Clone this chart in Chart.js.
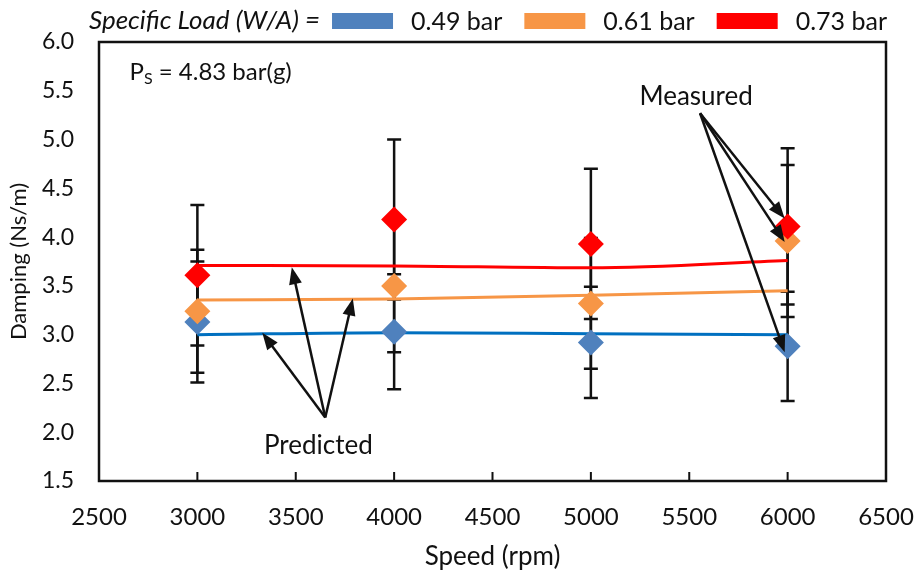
<!DOCTYPE html>
<html><head><meta charset="utf-8">
<script src="https://cdn.jsdelivr.net/npm/chart.js@4"></script>
<style>html,body{margin:0;padding:0;background:#fff}#wrap{width:915px;height:572px;position:relative}</style>
</head><body><div id="wrap"><canvas id="c"></canvas></div>
<script>
// ---- data ----
const speeds = [3000, 4000, 5000, 6000];
const loadLabels = ['0.49 bar', '0.61 bar', '0.73 bar'];
const measured049 = [3.13, 3.03, 2.92, 2.88];
const measured061 = [3.24, 3.50, 3.32, 3.96];
const measured073 = [3.61, 4.18, 3.93, 4.11];
const error049 = [0.62, 0.59, 0.57, 0.56];
const error061 = [0.63, 0.68, 0.67, 0.78];
const error073 = [0.72, 0.82, 0.77, 0.80];
const predicted049 = [3.00, 3.02, 3.01, 3.00];
const predicted061 = [3.355, 3.365, 3.405, 3.45];
const predicted073 = [3.71, 3.705, 3.685, 3.76];
const xTickValues = [2500, 3000, 3500, 4000, 4500, 5000, 5500, 6000, 6500];
const yTickValues = [1.5, 2.0, 2.5, 3.0, 3.5, 4.0, 4.5, 5.0, 5.5, 6.0];
const legendPrefix = 'Specific Load (W/A) =';
const supplyPressure = 'P|S| = 4.83 bar(g)';

// annotation anchors (data units)
const predictedNote = { text: 'Predicted', x: 3615, y: 1.86, from: [3650, 2.15],
  to: [[3330, 3.02], [3480, 3.69], [3790, 3.37]] };
const measuredNote = { text: 'Measured', x: 5535, y: 5.44, from: [5555, 5.27],
  to: [[5985, 4.19], [5985, 3.95], [5985, 2.82]] };
const psNote = { x: 2655, y: 5.69 };

const FONT = 'Lato, "Open Sans", sans-serif';
const blue = '#4F81BD', orange = '#F79646', red = '#FF0000';
const lineBlue = '#0070C0', lineOrange = '#F79646', lineRed = '#FF0000';

const pts = (ys) => speeds.map((s, i) => ({ x: s, y: ys[i] }));

const errorBarPlugin = {
  id: 'errorBars',
  beforeDatasetsDraw(chart) {
    const { ctx, scales: { x, y } } = chart;
    ctx.save();
    ctx.strokeStyle = '#111';
    ctx.lineWidth = 2.5;
    chart.data.datasets.forEach((ds) => {
      if (!ds.errorBars) return;
      ds.data.forEach((p, i) => {
        const e = ds.errorBars[i];
        const px = x.getPixelForValue(p.x);
        const yt = y.getPixelForValue(p.y + e), yb = y.getPixelForValue(p.y - e);
        ctx.beginPath();
        ctx.moveTo(px, yt); ctx.lineTo(px, yb);
        ctx.moveTo(px - 7, yt); ctx.lineTo(px + 7, yt);
        ctx.moveTo(px - 7, yb); ctx.lineTo(px + 7, yb);
        ctx.stroke();
      });
    });
    ctx.restore();
  }
};

function arrow(ctx, x0, y0, x1, y1) {
  const a = Math.atan2(y1 - y0, x1 - x0), L = 17, W = 6.5;
  const c = Math.cos(a), s = Math.sin(a);
  ctx.beginPath();
  ctx.moveTo(x0, y0);
  ctx.lineTo(x1 - c * L * 0.8, y1 - s * L * 0.8);
  ctx.stroke();
  ctx.beginPath();
  ctx.moveTo(x1, y1);
  ctx.lineTo(x1 - L * c + W * s, y1 - L * s - W * c);
  ctx.lineTo(x1 - L * c - W * s, y1 - L * s + W * c);
  ctx.closePath();
  ctx.fill();
}

const framePlugin = {
  id: 'frame',
  afterDatasetsDraw(chart) {
    const { ctx, chartArea: ca, scales: { x, y } } = chart;
    ctx.save();
    // inner x ticks
    ctx.strokeStyle = '#111'; ctx.lineWidth = 2;
    ctx.beginPath();
    xTickValues.forEach(v => { const px = x.getPixelForValue(v); ctx.moveTo(px, ca.bottom); ctx.lineTo(px, ca.bottom - 9); });
    ctx.stroke();
    // frame
    ctx.lineWidth = 2.5;
    ctx.strokeRect(ca.left, ca.top, ca.right - ca.left, ca.bottom - ca.top);
    // annotations
    ctx.fillStyle = '#111'; ctx.strokeStyle = '#111'; ctx.lineWidth = 2.5;
    [predictedNote, measuredNote].forEach(n => {
      const fx = x.getPixelForValue(n.from[0]), fy = y.getPixelForValue(n.from[1]);
      n.to.forEach(t => arrow(ctx, fx, fy, x.getPixelForValue(t[0]), y.getPixelForValue(t[1])));
      ctx.font = '26px ' + FONT;
      ctx.textAlign = 'center'; ctx.textBaseline = 'middle';
      ctx.fillText(n.text, x.getPixelForValue(n.x), y.getPixelForValue(n.y));
    });
    // P_S text
    const parts = supplyPressure.split('|');
    let px = x.getPixelForValue(psNote.x); const py = y.getPixelForValue(psNote.y);
    ctx.textAlign = 'left'; ctx.textBaseline = 'middle';
    ctx.font = '24px ' + FONT; ctx.fillText(parts[0], px, py); px += ctx.measureText(parts[0]).width;
    ctx.font = '16px ' + FONT; ctx.fillText(parts[1], px, py + 7); px += ctx.measureText(parts[1]).width;
    ctx.font = '24px ' + FONT; ctx.fillText(parts[2], px, py);
    ctx.restore();
  },
  afterDraw(chart) {
    // legend for the measured series, drawn right-aligned above the plot
    const { ctx, chartArea: ca } = chart;
    const items = chart.data.datasets.filter(ds => ds.errorBars);
    const boxW = 61, boxH = 16, gapBoxText = 18, gapItem = 22, gapPrefix = 12;
    const cy = 21;
    ctx.save();
    ctx.textBaseline = 'middle'; ctx.textAlign = 'left'; ctx.fillStyle = '#111';
    ctx.font = '25px ' + FONT;
    const widths = items.map(ds => ctx.measureText(ds.label).width);
    let total = 0;
    widths.forEach((w, i) => { total += boxW + gapBoxText + w + (i < widths.length - 1 ? gapItem : 0); });
    let xPos = ca.right + 1 - total;
    ctx.font = 'italic 26px ' + FONT;
    ctx.textAlign = 'right';
    ctx.fillText(legendPrefix, xPos - gapPrefix, cy);
    ctx.textAlign = 'left';
    ctx.font = '25px ' + FONT;
    items.forEach((ds, i) => {
      ctx.fillStyle = ds.backgroundColor;
      ctx.fillRect(xPos, cy - boxH / 2, boxW, boxH);
      xPos += boxW + gapBoxText;
      ctx.fillStyle = '#111';
      ctx.fillText(ds.label, xPos, cy + 1);
      xPos += widths[i] + gapItem;
    });
    ctx.restore();
  }
};

const measuredDs = (label, data, err, color, order) => ({
  type: 'scatter', label, data: pts(data), errorBars: err, order,
  backgroundColor: color, borderColor: color, borderWidth: 0,
  pointStyle: 'rectRot', pointRadius: 13, pointHoverRadius: 13
});
const predictedDs = (label, data, color) => ({
  type: 'line', label, data: pts(data), order: 5,
  borderColor: color, backgroundColor: color, borderWidth: 3,
  pointRadius: 0, cubicInterpolationMode: 'monotone', fill: false
});

new Chart(document.getElementById('c'), {
  type: 'scatter',
  data: {
    datasets: [
      measuredDs(loadLabels[0], measured049, error049, blue, 2),
      measuredDs(loadLabels[1], measured061, error061, orange, 1),
      measuredDs(loadLabels[2], measured073, error073, red, 0),
      predictedDs('Predicted ' + loadLabels[0], predicted049, lineBlue),
      predictedDs('Predicted ' + loadLabels[1], predicted061, lineOrange),
      predictedDs('Predicted ' + loadLabels[2], predicted073, lineRed)
    ]
  },
  options: {
    responsive: true, maintainAspectRatio: false, animation: false,
    layout: { padding: { left: 0, right: 29, top: 42, bottom: 0 } },
    plugins: {
      tooltip: { enabled: false },
      legend: { display: false }
    },
    scales: {
      x: {
        type: 'linear', min: 2500, max: 6500,
        afterBuildTicks: (s) => { s.ticks = xTickValues.map(v => ({ value: v })); },
        afterFit: (s) => { s.height = 91; s.paddingLeft = 0; s.paddingRight = 0; },
        grid: { display: false, drawTicks: false },
        border: { display: false },
        ticks: { color: '#111', padding: 22, font: { family: FONT, size: 24 }, callback: (v) => String(v) },
        title: { display: true, text: 'Speed (rpm)', color: '#111', font: { family: FONT, size: 26 }, padding: { top: 0, bottom: 0 } }
      },
      y: {
        type: 'linear', min: 1.5, max: 6.0,
        afterBuildTicks: (s) => { s.ticks = yTickValues.map(v => ({ value: v })); },
        afterFit: (s) => { s.width = 99; s.paddingTop = 0; s.paddingBottom = 0; },
        grid: { display: false, drawTicks: false },
        border: { display: false },
        ticks: { color: '#111', padding: 25, font: { family: FONT, size: 23 }, callback: (v) => Number(v).toFixed(1) },
        title: { display: true, text: 'Damping (Ns/m)', color: '#111', font: { family: FONT, size: 22 }, padding: { top: 6, bottom: 0 } }
      }
    }
  },
  plugins: [errorBarPlugin, framePlugin]
});
</script>
</body></html>
